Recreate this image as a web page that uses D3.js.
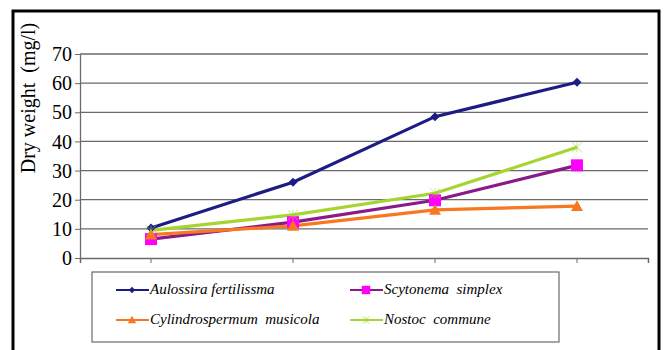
<!DOCTYPE html>
<html>
<head>
<meta charset="utf-8">
<script src="https://cdn.jsdelivr.net/npm/d3@7"></script>
<style>
  body { margin: 0; background: #fff; }
  svg { display: block; }
</style>
</head>
<body>
<script>
// data
const categories = ['1', '2', '3', '4'];
const aulossira = [10.3, 26, 48.5, 60.3];
const scytonema = [6.5, 12.3, 19.8, 31.8];
const cylindro = [8, 11, 16.5, 17.8];
const nostoc = [9.5, 14.8, 22.2, 38];
const yTicks = [0, 10, 20, 30, 40, 50, 60, 70];

const width = 665;
const height = 350;
const serif = "'Liberation Serif'";

const series = [
  {name: 'Aulossira fertilissma', values: aulossira, color: '#1c1c84', marker: 'diamond'},
  {name: 'Scytonema  simplex', values: scytonema, color: '#8a1a8a', fill: '#ff00ff', marker: 'square'},
  {name: 'Cylindrospermum  musicola', values: cylindro, color: '#f7781f', marker: 'triangle'},
  {name: 'Nostoc  commune', values: nostoc, color: '#a6d531', marker: 'star'}
];

const svg = d3.select('body').append('svg')
  .attr('width', width)
  .attr('height', height);

// outer frame
svg.append('rect')
  .attr('x', 13).attr('y', 11)
  .attr('width', 646).attr('height', 350)
  .attr('fill', 'none')
  .attr('stroke', '#000')
  .attr('stroke-width', 3);

const x = d3.scaleBand()
  .domain(categories)
  .range([80, 648]);

const y = d3.scaleLinear()
  .domain([0, 70])
  .range([258, 54]);

// gridlines
svg.append('g')
  .selectAll('line')
  .data(yTicks.slice(1))
  .join('line')
  .attr('x1', 80).attr('x2', 648)
  .attr('y1', d => y(d)).attr('y2', d => y(d))
  .attr('stroke', '#6a6a6a')
  .attr('stroke-width', 1.3);

// y axis
const yAxisG = svg.append('g')
  .attr('transform', 'translate(80,0)')
  .call(d3.axisLeft(y).tickValues(yTicks).tickSize(5).tickPadding(3).tickSizeOuter(0));
yAxisG.select('.domain').attr('stroke', '#6a6a6a').attr('stroke-width', 1.3);
yAxisG.selectAll('.tick line').attr('stroke', '#6a6a6a');
yAxisG.selectAll('text')
  .style('font-family', serif)
  .style('font-size', '20px')
  .attr('fill', '#000')
  .attr('dy', '0.33em');

// x axis (no labels, as in the reference)
const xAxisG = svg.append('g')
  .attr('transform', 'translate(0,258)')
  .call(d3.axisBottom(x).tickSize(5).tickSizeOuter(5).tickFormat(''));
xAxisG.select('.domain').attr('stroke', '#6a6a6a').attr('stroke-width', 1.5);
xAxisG.selectAll('.tick line').attr('stroke', '#6a6a6a');

// y axis title
svg.append('text')
  .attr('transform', 'translate(35,98) rotate(-90)')
  .attr('text-anchor', 'middle')
  .style('font-family', serif)
  .style('font-size', '20px')
  .style('white-space', 'pre')
  .attr('fill', '#000')
  .text('Dry weight  (mg/l)');

const cx = d => x(d) + x.bandwidth() / 2;

function drawMarker(g, s, px, py, scale) {
  const k = scale || 1;
  if (s.marker === 'diamond') {
    const r = 4.5 * k;
    g.append('path')
      .attr('d', `M${px},${py - r}L${px + r},${py}L${px},${py + r}L${px - r},${py}Z`)
      .attr('fill', s.color);
  } else if (s.marker === 'square') {
    const r = 6 * k;
    g.append('rect')
      .attr('x', px - r).attr('y', py - r)
      .attr('width', 2 * r).attr('height', 2 * r)
      .attr('fill', s.fill);
  } else if (s.marker === 'triangle') {
    const r = 6 * k;
    g.append('path')
      .attr('d', `M${px},${py - r}L${px + r},${py + r * 0.8}L${px - r},${py + r * 0.8}Z`)
      .attr('fill', s.color);
  } else {
    const r = 5 * k;
    g.append('path')
      .attr('d', `M${px - r},${py - r}L${px + r},${py + r}M${px + r},${py - r}L${px - r},${py + r}M${px},${py - r}L${px},${py + r}`)
      .attr('stroke', s.color)
      .attr('stroke-width', 1)
      .attr('opacity', 0.6);
  }
}

const line = d3.line()
  .x((d, i) => cx(categories[i]))
  .y(d => y(d));

const plot = svg.append('g');
series.forEach(s => {
  plot.append('path')
    .datum(s.values)
    .attr('d', line)
    .attr('fill', 'none')
    .attr('stroke', s.color)
    .attr('stroke-width', 3.2);
});
series.forEach(s => {
  s.values.forEach((v, i) => drawMarker(plot, s, cx(categories[i]), y(v)));
});

// legend
svg.append('rect')
  .attr('x', 92).attr('y', 272)
  .attr('width', 467).attr('height', 70)
  .attr('fill', '#fff')
  .attr('stroke', '#6a6a6a')
  .attr('stroke-width', 1.2);

const legendPos = [[116, 290], [350, 290], [116, 320], [350, 320]];
series.forEach((s, i) => {
  const [lx, ly] = legendPos[i];
  const g = svg.append('g');
  g.append('line')
    .attr('x1', lx).attr('x2', lx + 33)
    .attr('y1', ly).attr('y2', ly)
    .attr('stroke', s.color)
    .attr('stroke-width', 2);
  drawMarker(g, s, lx + 16, ly, 0.7);
  g.append('text')
    .attr('x', lx + 34)
    .attr('y', ly + 4)
    .style('font-family', serif)
    .style('font-style', 'italic')
    .style('font-size', '15px')
    .style('white-space', 'pre')
    .attr('fill', '#000')
    .text(s.name);
});
</script>
</body>
</html>
